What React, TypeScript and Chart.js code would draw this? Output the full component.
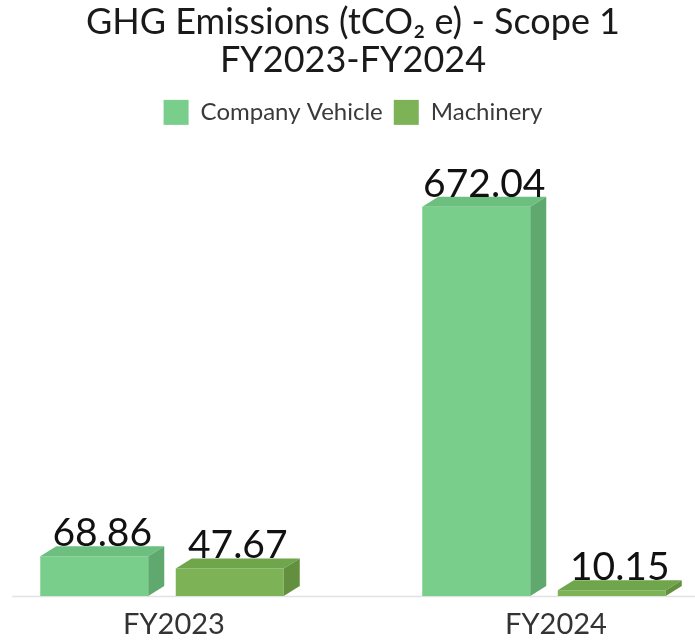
import { useEffect, useRef } from "react";
import { Chart, registerables } from "chart.js";

Chart.register(...registerables);

const categories = ["FY2023", "FY2024"];
const seriesNames = ["Company Vehicle", "Machinery"];
const companyVehicle = [68.86, 672.04];
const machinery = [47.67, 10.15];
const titleLines = ["GHG Emissions (tCO₂ e) - Scope 1", "FY2023-FY2024"];

const frontColors = ["#79CE8B", "#7DB356"];
const topColors = ["#6CBF7E", "#6FA54B"];
const sideColors = ["#5FA96F", "#63903F"];

const FONT = "Lato, 'DejaVu Sans', sans-serif";
const DX = 16;
const DY = 10;
const OFFSET_LEFT = -29;
const CANVAS_W = 764;
const CANVAS_H = 657;

const bar3d = {
  id: "bar3d",
  beforeDatasetsDraw(chart: any) {
    const ctx = chart.ctx;
    const y = chart.chartArea.bottom;
    ctx.save();
    ctx.strokeStyle = "#e2e2e2";
    ctx.lineWidth = 1.5;
    ctx.beginPath();
    ctx.moveTo(12 - OFFSET_LEFT, y + 0.5);
    ctx.lineTo(chart.width, y + 0.5);
    ctx.stroke();
    ctx.restore();
  },
  afterDatasetsDraw(chart: any) {
    const ctx = chart.ctx;
    ctx.save();
    chart.data.datasets.forEach((ds: any, di: number) => {
      const meta = chart.getDatasetMeta(di);
      meta.data.forEach((bar: any, i: number) => {
        const { x, y, base, width } = bar.getProps(["x", "y", "base", "width"], true);
        const l = x - width / 2;
        const r = x + width / 2;
        ctx.fillStyle = topColors[di];
        ctx.beginPath();
        ctx.moveTo(l, y);
        ctx.lineTo(l + DX, y - DY);
        ctx.lineTo(r + DX, y - DY);
        ctx.lineTo(r, y);
        ctx.closePath();
        ctx.fill();
        ctx.fillStyle = sideColors[di];
        ctx.beginPath();
        ctx.moveTo(r, y);
        ctx.lineTo(r + DX, y - DY);
        ctx.lineTo(r + DX, base - DY);
        ctx.lineTo(r, base);
        ctx.closePath();
        ctx.fill();
        ctx.fillStyle = "#111111";
        ctx.font = `39px ${FONT}`;
        ctx.textAlign = "center";
        ctx.textBaseline = "alphabetic";
        ctx.fillText(Number(ds.data[i]).toFixed(2), x + DX / 2, y - DY);
      });
    });
    ctx.restore();
  },
};

export default function App() {
  const ref = useRef<HTMLCanvasElement | null>(null);

  useEffect(() => {
    document.body.style.margin = "0";
    if (!ref.current) return;
    const chart = new Chart(ref.current, {
      type: "bar",
      data: {
        labels: categories,
        datasets: [
          { label: seriesNames[0], data: companyVehicle, backgroundColor: frontColors[0] },
          { label: seriesNames[1], data: machinery, backgroundColor: frontColors[1] },
        ],
      },
      options: {
        responsive: false,
        animation: false,
        categoryPercentage: 0.7094,
        barPercentage: 0.797,
        layout: { padding: { top: 0, bottom: 3, left: 0, right: 0 } },
        plugins: {
          title: {
            display: true,
            text: titleLines,
            color: "#1a1a1a",
            font: { family: FONT, size: 36, weight: "normal", lineHeight: 1.04 },
            padding: { top: 4, bottom: 10 },
          },
          legend: {
            display: true,
            labels: {
              boxWidth: 25,
              boxHeight: 25,
              padding: 11,
              color: "#3a3a3a",
              font: { family: FONT, size: 24 },
            },
          },
          tooltip: { enabled: false },
        },
        scales: {
          x: {
            grid: { display: false, drawTicks: false },
            border: { display: false },
            ticks: {
              color: "#333333",
              font: { family: FONT, size: 29, lineHeight: 1.1 },
              padding: 13,
              labelOffset: 12,
            },
          },
          y: {
            display: false,
            min: 0,
            max: 796,
          },
        },
      },
      plugins: [bar3d],
    });
    return () => chart.destroy();
  }, []);

  return (
    <div style={{ position: "relative", width: 695, height: 640, overflow: "hidden" }}>
      <div style={{ position: "absolute", left: OFFSET_LEFT, top: 0, width: CANVAS_W, height: CANVAS_H }}>
        <canvas ref={ref} width={CANVAS_W} height={CANVAS_H} style={{ display: "block" }} />
      </div>
    </div>
  );
}
